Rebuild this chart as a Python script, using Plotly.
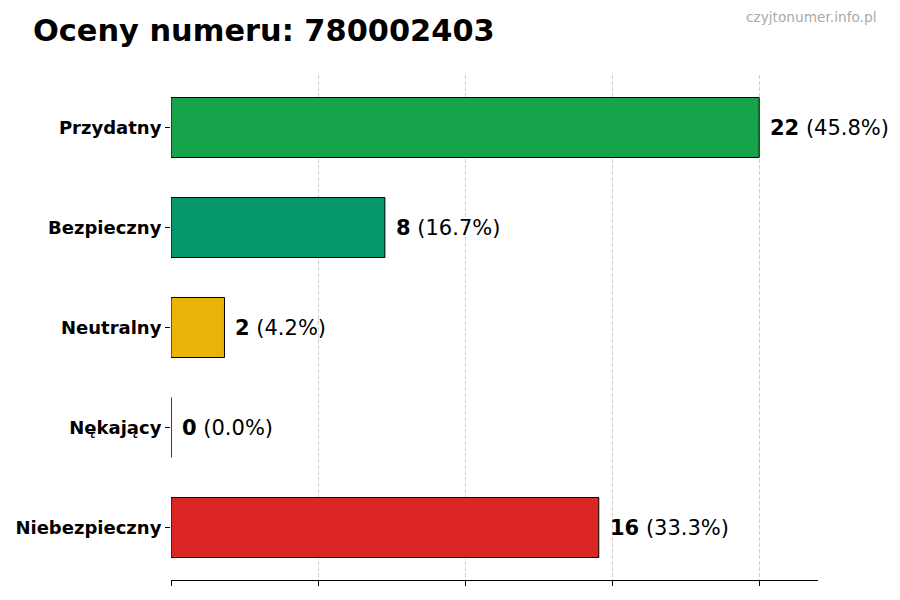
import plotly.graph_objects as go

# ratings data
categories = ['Przydatny', 'Bezpieczny', 'Neutralny', 'Nękający', 'Niebezpieczny']
counts = [22, 8, 2, 0, 16]
colors = ['#16a34a', '#059669', '#eab308', '#4b5563', '#dc2626']
phone_number = '780002403'

total = sum(counts)
labels = ['<b>%d</b> (%.1f%%)' % (c, 100.0 * c / total) for c in counts]
x_max = max(counts) * 1.1
x_ticks = [max(counts) * i / 4 for i in range(5)]

fig = go.Figure(go.Bar(
    x=counts, y=categories, orientation='h', width=0.6,
    marker={'color': colors, 'line': {'color': 'black', 'width': 1}},
    cliponaxis=False,
))

# value labels to the right of each bar
for cat, c, lab in zip(categories, counts, labels):
    fig.add_annotation(x=c, y=cat, text=lab, showarrow=False, xanchor='left',
                       xshift=9, font={'size': 21, 'color': 'black'})

# page puts the figure at an 8px offset, so the size is trimmed by that
fig.update_layout(
    width=892, height=592,
    margin={'l': 163, 'r': 82, 't': 67, 'b': 20},
    plot_bgcolor='white', paper_bgcolor='white',
    font={'family': 'DejaVu Sans', 'color': 'black'},
    title={'text': '<b>Oceny numeru: %s</b>' % phone_number, 'x': 0.028, 'xanchor': 'left',
           'y': 0.962, 'yanchor': 'middle', 'font': {'size': 30.4, 'color': 'black'}},
    xaxis={'range': [0, x_max], 'tickvals': x_ticks, 'showticklabels': False,
           'ticks': 'outside', 'ticklen': 5, 'tickcolor': 'black', 'automargin': False,
           'showgrid': True, 'gridcolor': '#cfcfcf', 'griddash': '4px,2px', 'gridwidth': 1,
           'showline': True, 'linecolor': 'black', 'linewidth': 1, 'zeroline': False},
    yaxis={'type': 'category', 'range': [4.525, -0.525], 'ticks': 'outside', 'ticklen': 5,
           'tickcolor': 'black', 'tickfont': {'size': 18}, 'showgrid': False,
           'showline': False, 'zeroline': False, 'automargin': False},
    showlegend=False,
)
fig.update_yaxes(tickprefix='<b>', ticksuffix='</b>')

fig.add_annotation(text='czyjtonumer.info.pl', xref='paper', yref='paper', x=1.093, y=1.115,
                   xanchor='right', yanchor='middle', showarrow=False,
                   font={'size': 13.7, 'color': '#aaaaaa'})

fig.write_html('out.html')
